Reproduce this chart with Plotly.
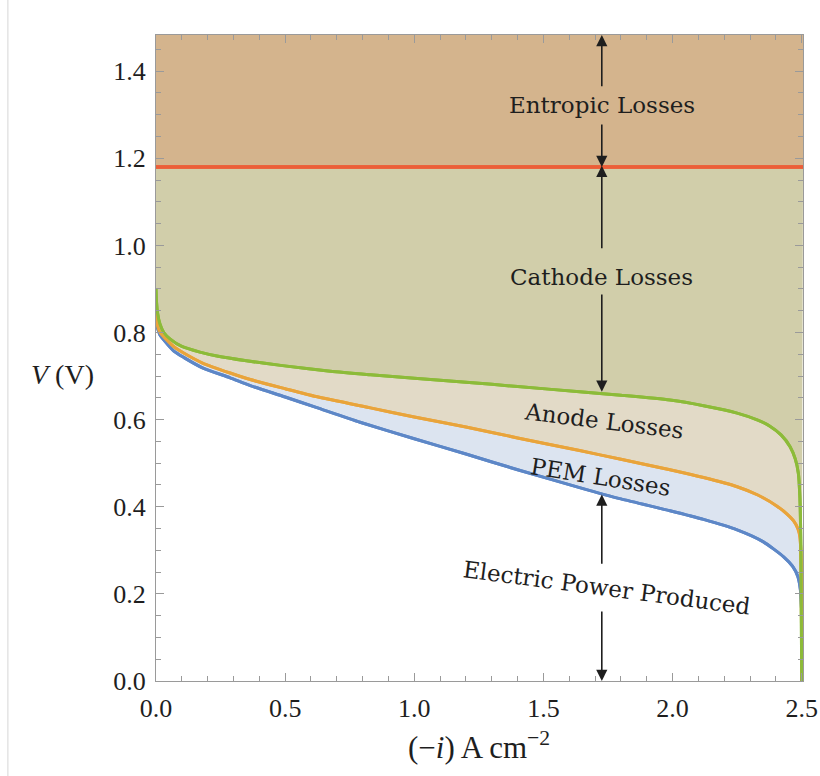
import plotly.graph_objects as go

# ---- data ----
E_rev = 1.18          # entropic / reversible line (V)
y_top = 1.483
x_max = 2.505

green_x = [0.0, 0.002, 0.006, 0.015, 0.03, 0.055, 0.1, 0.17, 0.236, 0.35, 0.49, 0.675, 0.83, 1.0, 1.2, 1.4, 1.64, 1.8, 1.99, 2.12, 2.25, 2.33, 2.377, 2.42, 2.455, 2.475, 2.487, 2.493, 2.497, 2.5]
green_y = [0.90, 0.87, 0.845, 0.82, 0.80, 0.785, 0.768, 0.755, 0.746, 0.735, 0.724, 0.711, 0.703, 0.695, 0.686, 0.676, 0.664, 0.656, 0.645, 0.632, 0.615, 0.599, 0.585, 0.565, 0.538, 0.51, 0.477, 0.42, 0.30, 0.0]

orange_x = [0.0, 0.002, 0.006, 0.015, 0.03, 0.068, 0.107, 0.18, 0.287, 0.365, 0.5, 0.62, 0.83, 1.0, 1.2, 1.4, 1.64, 1.8, 1.99, 2.12, 2.25, 2.33, 2.403, 2.44, 2.468, 2.485, 2.493, 2.497, 2.5]
orange_y = [0.86, 0.835, 0.815, 0.80, 0.79, 0.768, 0.753, 0.73, 0.707, 0.692, 0.671, 0.653, 0.627, 0.606, 0.583, 0.558, 0.529, 0.509, 0.485, 0.467, 0.446, 0.427, 0.402, 0.385, 0.368, 0.35, 0.331, 0.29, 0.0]

blue_x = [0.0, 0.002, 0.006, 0.015, 0.03, 0.068, 0.107, 0.18, 0.287, 0.365, 0.5, 0.62, 0.79, 1.0, 1.2, 1.4, 1.64, 1.8, 1.99, 2.12, 2.25, 2.35, 2.43, 2.465, 2.485, 2.495, 2.5, 2.5]
blue_y = [0.84, 0.825, 0.81, 0.795, 0.783, 0.758, 0.743, 0.719, 0.696, 0.678, 0.652, 0.628, 0.594, 0.556, 0.521, 0.485, 0.444, 0.418, 0.391, 0.371, 0.347, 0.32, 0.285, 0.263, 0.24, 0.209, 0.15, 0.0]

x_ticks = [0.0, 0.5, 1.0, 1.5, 2.0, 2.5]
y_ticks = [0.0, 0.2, 0.4, 0.6, 0.8, 1.0, 1.2, 1.4]

# ---- colours ----
c_tan = "#D4B48D"
c_olive = "#D1CEAA"
c_anode = "#E2DAC7"
c_pem = "#DCE4F0"
c_green = "#8CBB39"
c_orange = "#E9A43B"
c_blue = "#5D87C7"
c_red = "#EC5E38"
txt = "#1e1e1e"
SERIF = "Liberation Serif"
ANN = "DejaVu Serif"

fig = go.Figure()

line_shape = dict(shape="spline", smoothing=0.6)

fig.add_trace(go.Scatter(x=blue_x, y=blue_y, mode="lines",
                         line=dict(color=c_blue, width=3, **line_shape),
                         hoverinfo="skip", showlegend=False))
fig.add_trace(go.Scatter(x=orange_x, y=orange_y, mode="lines", fill="tonexty", fillcolor=c_pem,
                         line=dict(color=c_orange, width=3, **line_shape),
                         hoverinfo="skip", showlegend=False))
fig.add_trace(go.Scatter(x=green_x, y=green_y, mode="lines", fill="tonexty", fillcolor=c_anode,
                         line=dict(color=c_green, width=3, **line_shape),
                         hoverinfo="skip", showlegend=False))
fig.add_trace(go.Scatter(x=[0.0, x_max], y=[E_rev, E_rev], mode="lines", fill="tonexty",
                         fillcolor=c_olive, line=dict(color=c_red, width=3.5),
                         hoverinfo="skip", showlegend=False))
# redraw the curves on top of the fills
for xs, ys, c in [(blue_x, blue_y, c_blue), (orange_x, orange_y, c_orange), (green_x, green_y, c_green)]:
    fig.add_trace(go.Scatter(x=xs, y=ys, mode="lines", line=dict(color=c, width=3, **line_shape),
                             hoverinfo="skip", showlegend=False))
fig.add_trace(go.Scatter(x=[0.0, x_max], y=[E_rev, E_rev], mode="lines",
                         line=dict(color=c_red, width=3.5), hoverinfo="skip", showlegend=False))

shapes = [
    dict(type="rect", xref="x", yref="y", x0=0, x1=x_max, y0=E_rev, y1=y_top,
         fillcolor=c_tan, line=dict(width=0), layer="below"),
    dict(type="line", xref="paper", yref="paper", x0=-0.229, x1=-0.229, y0=-0.2, y1=1.06,
         line=dict(color="#e4e4e4", width=1.5)),
]

xa = 1.726
annotations = []

def arrow(x_tip, y_tip, y_tail):
    annotations.append(dict(x=x_tip, y=y_tip, ax=x_tip, ay=y_tail, xref="x", yref="y",
                            axref="x", ayref="y", text="", showarrow=True, arrowhead=2,
                            arrowsize=1.4, arrowwidth=1.6, arrowcolor=txt, standoff=0))

arrow(xa, y_top, 1.362)
arrow(xa, E_rev, 1.281)
arrow(xa, E_rev + 0.003, 0.99)
arrow(xa, 0.664, 0.891)
arrow(xa, 0.428, 0.266)
arrow(xa, 0.0, 0.163)

def label(text, x, y, angle=0):
    annotations.append(dict(x=x, y=y, xref="x", yref="y", text=text, showarrow=False,
                            xanchor="center", yanchor="middle",
                            textangle=angle, font=dict(family=ANN, size=23, color=txt)))

label("Entropic Losses", xa, 1.322)
label("Cathode Losses", xa, 0.928)
label("Anode Losses", (604 - 155.7) / 258.4, (681 - 421) / 435.5, 7)
label("PEM Losses", (600 - 155.7) / 258.4, (681 - 477) / 435.5, 9)
label("Electric Power Produced", (607 - 155.7) / 258.4, (681 - 588) / 435.5, 7.5)

# axis titles
annotations.append(dict(xref="paper", yref="y", x=-0.145, y=0.703, text="<i>V</i> (V)",
                        xanchor="center", yanchor="middle",
                        showarrow=False, font=dict(family=SERIF, size=28, color=txt)))
annotations.append(dict(xref="x", yref="paper", x=(479 - 155.7) / 258.4, y=-0.1,
                        xanchor="center", yanchor="middle",
                        text="(−<i>i</i>) A cm<sup>−2</sup>",
                        showarrow=False, font=dict(family=SERIF, size=31, color=txt)))

axis_common = dict(showgrid=False, zeroline=False, showline=True, linecolor="#9a9a9a",
                   linewidth=1.2, mirror="ticks", ticks="inside", ticklen=8, tickwidth=1.2,
                   tickcolor="#9a9a9a", automargin=False,
                   tickfont=dict(family=SERIF, size=26, color=txt))

fig.update_layout(
    width=820, height=776,
    margin=dict(l=156, r=17, t=35, b=95, autoexpand=False),
    paper_bgcolor="white", plot_bgcolor="white",
    xaxis=dict(range=[0, x_max], tickvals=x_ticks, ticktext=[f"{v:.1f}" for v in x_ticks],
               minor=dict(dtick=0.1, tick0=0, ticks="inside", ticklen=5, tickcolor="#9a9a9a"),
               ticklabelstandoff=4, **axis_common),
    yaxis=dict(range=[0, y_top], tickvals=y_ticks, ticktext=[f"{v:.1f}" for v in y_ticks],
               minor=dict(dtick=0.05, tick0=0, ticks="inside", ticklen=5, tickcolor="#9a9a9a"),
               ticklabelstandoff=4, **axis_common),
    shapes=shapes,
    annotations=annotations,
)

fig.write_html("out.html")
